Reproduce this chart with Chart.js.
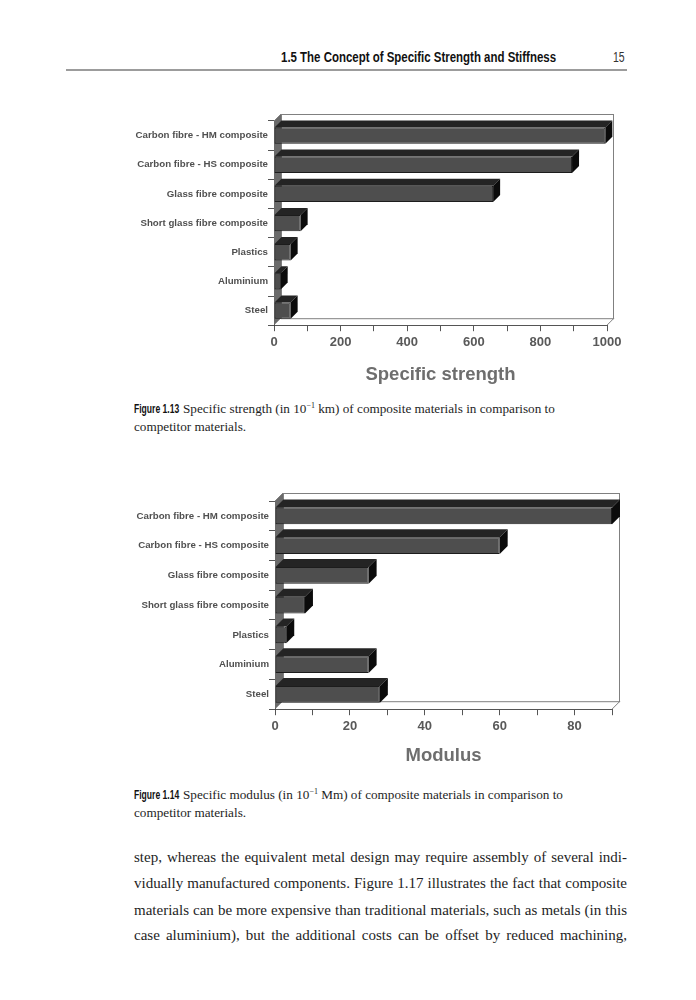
<!DOCTYPE html>
<html>
<head>
<meta charset="utf-8">
<script src="https://cdn.jsdelivr.net/npm/chart.js@4/dist/chart.umd.min.js"></script>
<style>
  body { margin: 0; background: #fff; }
  #page { position: relative; width: 696px; height: 1000px; overflow: hidden; background: #fff; }
  .abs { position: absolute; white-space: nowrap; }
  .head { font-family: 'Liberation Sans', Arial, sans-serif; font-weight: bold; font-size: 14px; line-height: 18px; color: #111; }
  .pno { font-family: 'Liberation Sans', Arial, sans-serif; font-size: 14px; line-height: 18px; color: #333; }
  .rule { position: absolute; left: 66px; top: 69px; width: 561px; height: 2px; background: #9c9c9c; }
  .fig { font-family: 'Liberation Sans', Arial, sans-serif; font-weight: bold; font-size: 12px; line-height: 16px; color: #111; transform-origin: left center; }
  .cap { font-family: 'Liberation Serif', 'Times New Roman', serif; font-size: 13.2px; line-height: 16px; color: #1e1e1e; }
  .cap sup { font-size: 8px; vertical-align: 5px; line-height: 0; }
  .body { font-family: 'Liberation Serif', 'Times New Roman', serif; font-size: 15px; line-height: 18px; color: #1e1e1e; width: 493px; left: 134px; text-align: justify; text-align-last: justify; }
  .chartbox { position: absolute; left: 110px; width: 530px; }
</style>
</head>
<body>
<div id="page">
  <div class="abs head" id="headTitle" style="right:140px; top:48px; transform-origin:right center;">1.5 The Concept of Specific Strength and Stiffness</div>
  <div class="abs pno" id="pageNo" style="left:613px; top:48px; transform-origin:left center;">15</div>
  <div class="rule"></div>

  <div class="chartbox" style="top:100px; height:290px;"><canvas id="strengthChart" width="530" height="290"></canvas></div>

  <div class="abs fig" id="fig13" style="left:134px; top:401px;">Figure 1.13</div>
  <div class="abs cap" style="left:183px; top:401px;">Specific strength (in 10<sup>−1</sup> km) of composite materials in comparison to</div>
  <div class="abs cap" style="left:134px; top:419px;">competitor materials.</div>

  <div class="chartbox" style="top:485px; height:286px;"><canvas id="modulusChart" width="530" height="286"></canvas></div>

  <div class="abs fig" id="fig14" style="left:134px; top:787px;">Figure 1.14</div>
  <div class="abs cap" style="left:183px; top:787px;">Specific modulus (in 10<sup>−1</sup> Mm) of composite materials in comparison to</div>
  <div class="abs cap" style="left:134px; top:805px;">competitor materials.</div>

  <div class="abs body" style="top:848px;">step, whereas the equivalent metal design may require assembly of several indi-</div>
  <div class="abs body" style="top:874px;">vidually manufactured components. Figure 1.17 illustrates the fact that composite</div>
  <div class="abs body" style="top:901px;">materials can be more expensive than traditional materials, such as metals (in this</div>
  <div class="abs body" style="top:926px;">case aluminium), but the additional costs can be offset by reduced machining,</div>
</div>

<script>
// chart data
var categories = ['Carbon fibre - HM composite', 'Carbon fibre - HS composite', 'Glass fibre composite',
                  'Short glass fibre composite', 'Plastics', 'Aluminium', 'Steel'];
var strengthValues = [995, 895, 658, 80, 50, 20, 50];
var modulusValues = [90, 60, 25, 8, 3, 25, 28];
var strengthTickLabels = [0, 200, 400, 600, 800, 1000];
var modulusTickLabels = [0, 20, 40, 60, 80];

// squeeze the condensed headings to the width they have on the page
function squeeze(id, w) {
    var el = document.getElementById(id);
    el.style.transform = 'scaleX(' + (w / el.offsetWidth) + ')';
}
squeeze('headTitle', 275);
squeeze('pageNo', 12);
squeeze('fig13', 45);
squeeze('fig14', 45);

// fake 3D: back wall, left wall and the top/side faces of each bar
var depth3d = {
    id: 'depth3d',
    beforeDatasetsDraw: function(chart, args, opts) {
        var a = chart.chartArea, c = chart.ctx, d = opts.depth;
        c.save();
        c.fillStyle = '#6a6a6a';
        c.beginPath();
        c.moveTo(a.left, a.top);
        c.lineTo(a.left + d, a.top - d);
        c.lineTo(a.left + d, a.bottom - d);
        c.lineTo(a.left, a.bottom);
        c.closePath();
        c.fill();
        c.strokeStyle = '#808080';
        c.lineWidth = 1;
        c.strokeRect(a.left + d + 0.5, a.top - d + 0.5, a.right - a.left - 1, a.bottom - a.top);
        c.beginPath();
        c.moveTo(a.right, a.bottom);
        c.lineTo(a.right + d, a.bottom - d);
        c.moveTo(a.left, a.top);
        c.lineTo(a.left + d, a.top - d);
        c.stroke();
        c.restore();
    },
    afterDatasetsDraw: function(chart, args, opts) {
        var c = chart.ctx, d = opts.depth;
        c.save();
        chart.getDatasetMeta(0).data.forEach(function(bar) {
            var p = bar.getProps(['x', 'y', 'base', 'height'], true);
            var top = p.y - p.height / 2, bot = p.y + p.height / 2;
            c.fillStyle = '#242424';
            c.beginPath();
            c.moveTo(p.base, top);
            c.lineTo(p.x, top);
            c.lineTo(p.x + d, top - d);
            c.lineTo(p.base + d, top - d);
            c.closePath();
            c.fill();
            c.fillStyle = '#0b0b0b';
            c.beginPath();
            c.moveTo(p.x, top);
            c.lineTo(p.x + d, top - d);
            c.lineTo(p.x + d, bot - d);
            c.lineTo(p.x, bot);
            c.closePath();
            c.fill();
        });
        c.restore();
    }
};

function makeChart(id, values, maxVal, step, tickLabels, title, cfg) {
    var ctx = document.getElementById(id).getContext('2d');
    return new Chart(ctx, {
        type: 'bar',
        data: {
            labels: categories,
            datasets: [{
                data: values,
                backgroundColor: '#4e4e4e',
                borderColor: '#1c1c1c',
                borderWidth: 1,
                borderSkipped: false,
                barPercentage: 0.56,
                categoryPercentage: 1
            }]
        },
        plugins: [depth3d],
        options: {
            indexAxis: 'y',
            responsive: false,
            animation: false,
            layout: { padding: { top: cfg.top, right: cfg.right, left: 0, bottom: 0 } },
            plugins: {
                legend: { display: false },
                tooltip: { enabled: false },
                depth3d: { depth: cfg.depth }
            },
            scales: {
                x: {
                    min: 0,
                    max: maxVal,
                    ticks: {
                        stepSize: step,
                        autoSkip: false,
                        maxRotation: 0,
                        padding: 3,
                        color: '#595959',
                        font: { family: 'Liberation Sans', size: 13, weight: 'bold' },
                        callback: function(v) { return tickLabels.indexOf(v) >= 0 ? v : ''; }
                    },
                    grid: { drawOnChartArea: false, drawTicks: true, tickLength: 6, color: '#555' },
                    border: { color: '#555' },
                    title: {
                        display: true,
                        text: title,
                        color: '#6e6e6e',
                        font: { family: 'Liberation Sans', size: 18.5, weight: 'bold' },
                        padding: { top: cfg.titleGap, bottom: 4 }
                    }
                },
                y: {
                    afterFit: function(scale) { scale.width = cfg.left; },
                    ticks: {
                        padding: 0,
                        color: '#505050',
                        font: { family: 'Liberation Sans', size: 9.7, weight: 'bold' }
                    },
                    grid: { drawOnChartArea: false, drawTicks: true, tickLength: 6, color: '#555' },
                    border: { color: '#444' }
                }
            }
        }
    });
}

makeChart('strengthChart', strengthValues, 1000, 100, strengthTickLabels, 'Specific strength',
          { top: 21, right: 33, left: 164, depth: 7, titleGap: 11 });
makeChart('modulusChart', modulusValues, 90, 10, modulusTickLabels, 'Modulus',
          { top: 16, right: 28, left: 165, depth: 8, titleGap: 8 });
</script>
</body>
</html>
